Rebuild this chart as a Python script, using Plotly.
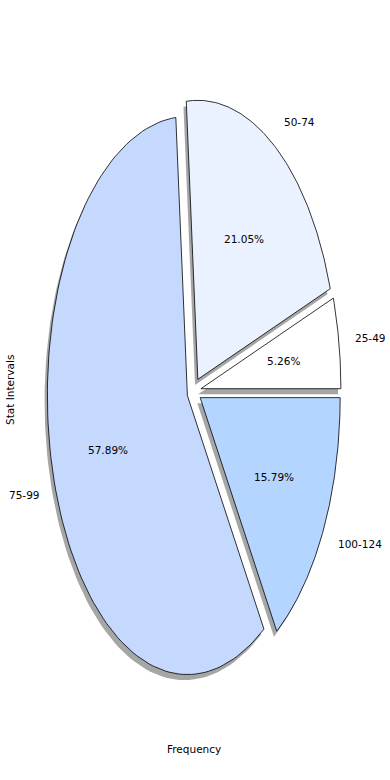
import numpy as np
import plotly.graph_objects as go

categories = ["25-49", "50-74", "75-99", "100-124"]
frequency = [1, 4, 11, 3]
colors = ["#ffffff", "#eaf2ff", "#c5d9ff", "#b3d5ff"]
explode = [0.05, 0.05, 0.05, 0.05]

# pixel geometry of the (stretched) pie
W, H = 390, 780
CX, CY = 194, 391      # centre in px
RX, RY = 140, 279      # px per unit radius

total = sum(frequency)
fig = go.Figure()

starts = np.cumsum([0] + frequency[:-1]) / total * 360.0
spans = np.array(frequency) / total * 360.0

def wedge(theta1, theta2, dx, dy):
    t = np.radians(np.linspace(theta1, theta2, 120))
    xs = np.concatenate([[dx], dx + np.cos(t), [dx]])
    ys = np.concatenate([[dy], dy + np.sin(t), [dy]])
    return xs, ys

shapes_data = []
for i, cat in enumerate(categories):
    t1 = starts[i]
    t2 = t1 + spans[i]
    mid = np.radians((t1 + t2) / 2)
    dx = explode[i] * np.cos(mid)
    dy = explode[i] * np.sin(mid)
    shapes_data.append((t1, t2, dx, dy, mid))

# shadows
for t1, t2, dx, dy, mid in shapes_data:
    xs, ys = wedge(t1, t2, dx - 0.02, dy - 0.02)
    fig.add_trace(go.Scatter(x=xs, y=ys, mode="lines", fill="toself",
                             fillcolor="rgba(77,77,77,0.5)", line=dict(width=0),
                             hoverinfo="skip", showlegend=False))

# wedges
for i, (t1, t2, dx, dy, mid) in enumerate(shapes_data):
    xs, ys = wedge(t1, t2, dx, dy)
    fig.add_trace(go.Scatter(x=xs, y=ys, mode="lines", fill="toself",
                             fillcolor=colors[i], line=dict(color="black", width=0.8),
                             name=categories[i], hoverinfo="name", showlegend=False))

FS = 10.5
annotations = []
for i, (t1, t2, dx, dy, mid) in enumerate(shapes_data):
    pct = frequency[i] / total * 100
    annotations.append(dict(x=dx + 0.6 * np.cos(mid), y=dy + 0.6 * np.sin(mid),
                            text=f"{pct:.2f}%", showarrow=False,
                            xanchor="center", yanchor="middle",
                            font=dict(size=FS, color="black")))
    lx = dx + 1.1 * np.cos(mid)
    ly = dy + 1.1 * np.sin(mid)
    annotations.append(dict(x=lx, y=ly, text=categories[i], showarrow=False,
                            xanchor="left" if lx > 0 else "right", yanchor="middle",
                            font=dict(size=FS, color="black")))

annotations.append(dict(xref="paper", yref="paper", x=194 / W, y=1 - 749 / H,
                        text="Frequency", showarrow=False, xanchor="center",
                        yanchor="middle", font=dict(size=FS, color="black")))
annotations.append(dict(xref="paper", yref="paper", x=10 / W, y=1 - 390 / H,
                        text="Stat Intervals", showarrow=False, textangle=-90,
                        xanchor="center", yanchor="middle", font=dict(size=FS, color="black")))

fig.update_layout(
    width=W, height=H, margin=dict(l=0, r=0, t=0, b=0),
    paper_bgcolor="white", plot_bgcolor="white",
    font=dict(family="DejaVu Sans", size=FS, color="black"),
    xaxis=dict(range=[-CX / RX, (W - CX) / RX], visible=False, fixedrange=True),
    yaxis=dict(range=[-(H - CY) / RY, CY / RY], visible=False, fixedrange=True),
    annotations=annotations,
    showlegend=False,
)

fig.write_html("out.html", config={"displayModeBar": False},
               post_script="document.body.style.margin='0';document.body.style.overflow='hidden';")
